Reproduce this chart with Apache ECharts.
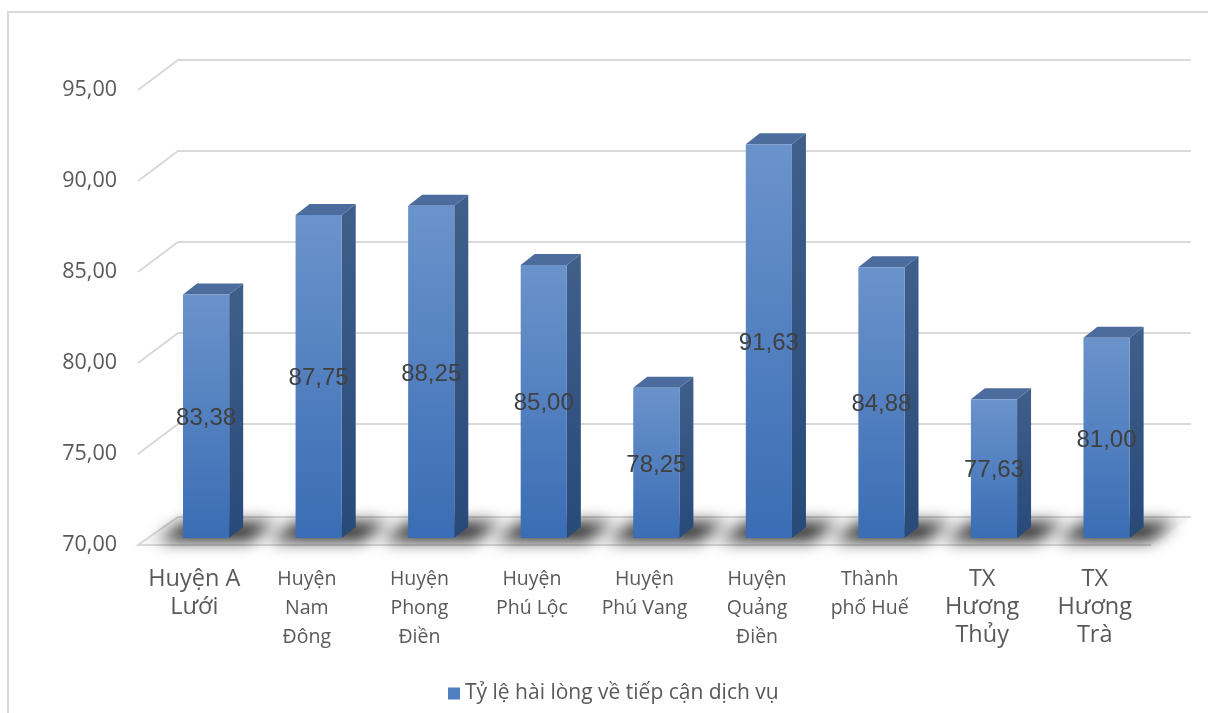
<!DOCTYPE html>
<html>
<head>
<meta charset="utf-8">
<script src="https://cdn.jsdelivr.net/npm/echarts@6/dist/echarts.min.js"></script>
<style>
  html, body { margin: 0; padding: 0; background: #ffffff; }
  #chart { width: 1208px; height: 713px; }
</style>
</head>
<body>
<div id="chart"></div>
<script>
// Satisfaction rate with service access, by district
const CATEGORIES = [
  'Huyện A Lưới', 'Huyện Nam Đông', 'Huyện Phong Điền', 'Huyện Phú Lộc',
  'Huyện Phú Vang', 'Huyện Quảng Điền', 'Thành phố Huế', 'TX Hương Thủy', 'TX Hương Trà'
];
const TICK_LABELS = [
  'Huyện A\nLưới', 'Huyện\nNam\nĐông', 'Huyện\nPhong\nĐiền', 'Huyện\nPhú Lộc',
  'Huyện\nPhú Vang', 'Huyện\nQuảng\nĐiền', 'Thành\nphố Huế', 'TX\nHương\nThủy', 'TX\nHương\nTrà'
];
// labels drawn in the larger type size
const LARGE_LABELS = [0, 7, 8];
const SERIES_NAME = 'Tỷ lệ hài lòng về tiếp cận dịch vụ';
const VALUES = [83.38, 87.75, 88.25, 85.00, 78.25, 91.63, 84.88, 77.63, 81.00];
const Y_MIN = 70, Y_MAX = 95, Y_STEP = 5;
const Y_TICKS = [75, 80, 85, 90, 95];

// pseudo-3D depth of the plot box (back wall offset from the front plane)
const DEPTH_X = 40, DEPTH_Y = -30, FLOOR_DY = -28;

const fmt = v => v.toFixed(2).replace('.', ',');

const chart = echarts.init(document.getElementById('chart'), null, { renderer: 'canvas' });

function renderFloor(params, api) {
  const cs = params.coordSys;
  const yb = cs.y + cs.height;
  const x0 = cs.x, x1 = cs.x + cs.width;
  const pFL = [x0, yb], pFR = [x1, yb];
  const pBR = [x1 + DEPTH_X, yb + FLOOR_DY], pBL = [x0 + DEPTH_X, yb + FLOOR_DY];
  return {
    type: 'group',
    children: [
      { type: 'polygon', shape: { points: [pFL, pFR, pBR, pBL] }, style: { fill: '#f8f8f8' } },
      { type: 'polyline', shape: { points: [pFR, pFL, pBL, pBR] }, style: { stroke: '#d9d9d9', lineWidth: 2, fill: null } }
    ]
  };
}

function renderGrid(params, api) {
  const cs = params.coordSys;
  const y = api.coord([0, api.value(0)])[1];
  const x0 = cs.x, x1 = cs.x + cs.width;
  return {
    type: 'polyline',
    shape: { points: [[x0, y], [x0 + DEPTH_X, y + DEPTH_Y], [x1 + DEPTH_X, y + DEPTH_Y]] },
    style: { stroke: '#d9d9d9', lineWidth: 2, fill: null }
  };
}

function barGeom(api) {
  const i = api.value(0), v = api.value(1);
  const bw = api.size([1, 0])[0];
  const top = api.coord([i, v]);
  const base = api.coord([i, Y_MIN]);
  const x0 = top[0] - bw * 0.10;
  const x1 = x0 + bw * 0.41;
  const lift = -7;
  return { x0, x1, yT: top[1] + lift, yB: base[1] + lift, sx: 14, sy: -11, v };
}

function renderShadow(params, api) {
  const g = barGeom(api);
  const off = 3000;
  return {
    type: 'polygon',
    shape: {
      points: [
        [g.x0 - 26 - off, g.yB + 3], [g.x1 + 20 - off, g.yB + 3],
        [g.x1 + 46 - off, g.yB - 16], [g.x0 + 2 - off, g.yB - 16]
      ]
    },
    style: {
      fill: '#000',
      shadowColor: 'rgba(0,0,0,0.85)',
      shadowBlur: 16,
      shadowOffsetX: off
    }
  };
}

function renderBar(params, api) {
  const g = barGeom(api);
  const { x0, x1, yT, yB, sx, sy } = g;
  return {
    type: 'group',
    children: [
      {
        type: 'polygon',
        shape: { points: [[x1, yT], [x1 + sx, yT + sy], [x1 + sx, yB + sy], [x1, yB]] },
        style: {
          fill: new echarts.graphic.LinearGradient(0, 0, 0, 1, [
            { offset: 0, color: '#405f8b' },
            { offset: 1, color: '#274a79' }
          ])
        }
      },
      {
        type: 'polygon',
        shape: { points: [[x0, yT], [x1, yT], [x1 + sx, yT + sy], [x0 + sx, yT + sy]] },
        style: { fill: '#4b6c9c' }
      },
      {
        type: 'rect',
        shape: { x: x0, y: yT, width: x1 - x0, height: yB - yT },
        style: {
          fill: new echarts.graphic.LinearGradient(0, 0, 0, 1, [
            { offset: 0, color: '#6b93cb' },
            { offset: 1, color: '#3a6db5' }
          ])
        }
      },
      {
        type: 'text',
        style: {
          text: fmt(g.v),
          x: (x0 + x1) / 2,
          y: (yT + yB) / 2 + 2,
          align: 'center',
          verticalAlign: 'middle',
          fill: '#404040',
          font: '24px "Liberation Sans", Arial, sans-serif'
        }
      }
    ]
  };
}

const option = {
  backgroundColor: '#ffffff',
  animation: false,
  graphic: [{
    type: 'rect',
    shape: { x: 8, y: 12, width: 1400, height: 900 },
    style: { fill: null, stroke: '#d9d9d9', lineWidth: 2 },
    z: -10
  }],
  grid: { left: 138, right: 57, top: 90, bottom: 168 },
  legend: {
    data: [SERIES_NAME],
    left: 443,
    top: 678,
    icon: 'rect',
    itemWidth: 12,
    itemHeight: 12,
    itemGap: 10,
    textStyle: { color: '#595959', fontSize: 21, fontFamily: '"Open Sans", sans-serif' }
  },
  xAxis: {
    type: 'category',
    data: CATEGORIES,
    axisLine: { show: false },
    axisTick: { show: false },
    axisLabel: {
      interval: 0,
      margin: 20,
      formatter: (val, idx) => {
        const style = LARGE_LABELS.includes(idx) ? 'big' : 'small';
        return '{' + style + '|' + TICK_LABELS[idx] + '}';
      },
      rich: {
        big: { fontSize: 23.5, lineHeight: 28, color: '#595959', fontFamily: '"Open Sans", sans-serif' },
        small: { fontSize: 19.5, lineHeight: 29, color: '#595959', fontFamily: '"Open Sans", sans-serif' }
      }
    }
  },
  yAxis: {
    type: 'value',
    min: Y_MIN,
    max: Y_MAX,
    interval: Y_STEP,
    axisLine: { show: false },
    axisTick: { show: false },
    splitLine: { show: false },
    axisLabel: {
      margin: 21,
      color: '#595959',
      fontSize: 21.5,
      fontFamily: '"Open Sans", sans-serif',
      padding: [4, 0, 0, 0],
      formatter: v => fmt(v)
    }
  },
  series: [
    {
      type: 'custom',
      name: 'floor',
      silent: true,
      z: 1,
      data: [[Y_MIN]],
      renderItem: renderFloor
    },
    {
      type: 'custom',
      name: 'gridlines',
      silent: true,
      z: 1,
      data: Y_TICKS.map(v => [v]),
      renderItem: renderGrid
    },
    {
      type: 'custom',
      name: 'shadow',
      silent: true,
      z: 2,
      data: VALUES.map((v, i) => [i, v]),
      renderItem: renderShadow
    },
    {
      type: 'custom',
      name: SERIES_NAME,
      z: 3,
      itemStyle: { color: '#4f7fc0' },
      data: VALUES.map((v, i) => [i, v]),
      encode: { x: 0, y: 1 },
      renderItem: renderBar
    }
  ]
};

chart.setOption(option);
</script>
</body>
</html>
